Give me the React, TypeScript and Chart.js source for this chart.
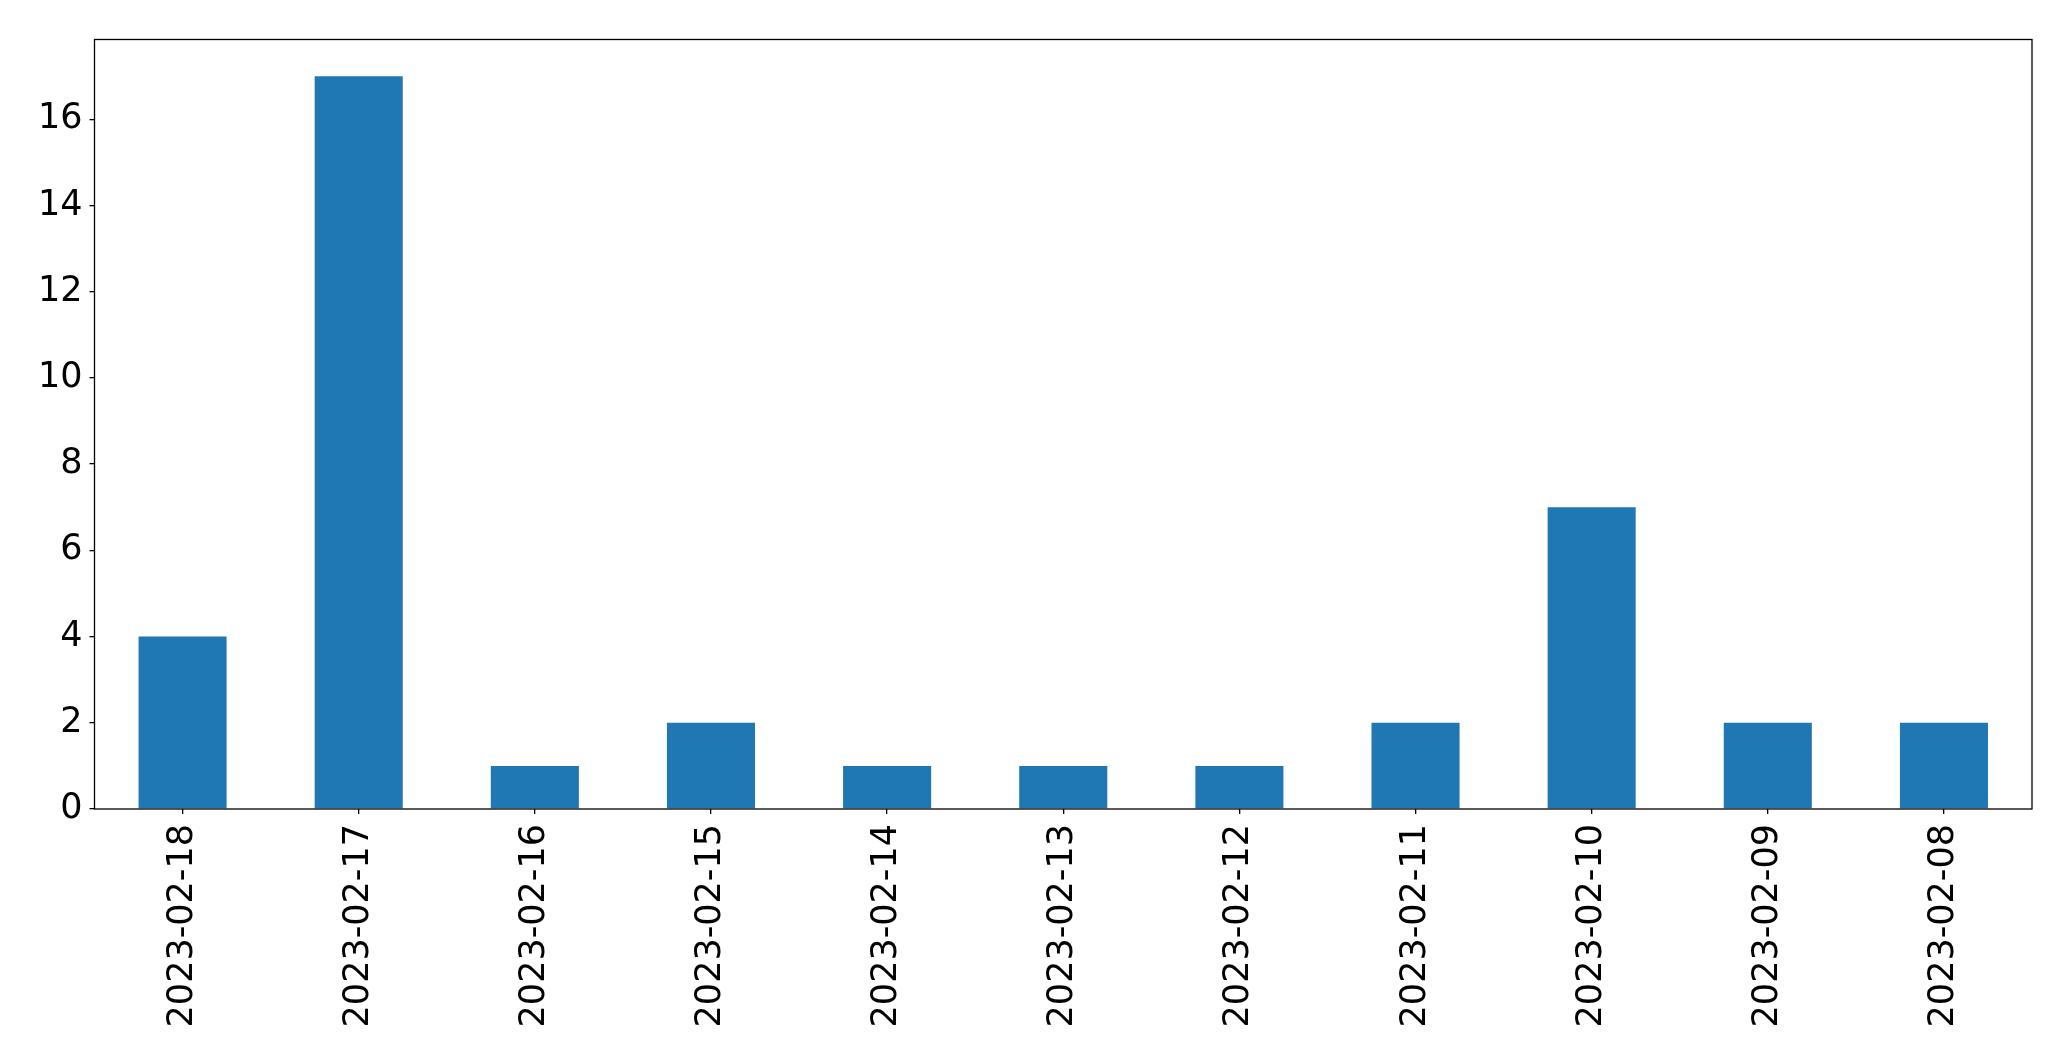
import React, { useEffect, useRef } from "react";
import { Chart, registerables } from "chart.js";

Chart.register(...registerables);

const categories = [
  "2023-02-18",
  "2023-02-17",
  "2023-02-16",
  "2023-02-15",
  "2023-02-14",
  "2023-02-13",
  "2023-02-12",
  "2023-02-11",
  "2023-02-10",
  "2023-02-09",
  "2023-02-08",
];
const counts = [4, 17, 1, 2, 1, 1, 1, 2, 7, 2, 2];
const yTicks = [0, 2, 4, 6, 8, 10, 12, 14, 16];
const yMax = 17.85;

const W = 2071;
const H = 1061;

const framePlugin = {
  id: "frame",
  afterDraw(chart: any) {
    const { ctx, chartArea } = chart;
    ctx.save();
    ctx.strokeStyle = "#000";
    ctx.lineWidth = 1.3;
    ctx.strokeRect(chartArea.left, chartArea.top, chartArea.right - chartArea.left, chartArea.bottom - chartArea.top);
    ctx.restore();
  },
};

export default function App() {
  const ref = useRef<HTMLCanvasElement | null>(null);
  useEffect(() => {
    document.body.style.margin = "0";
    const canvas = ref.current!;
    const chart = new Chart(canvas, {
      type: "bar",
      data: {
        labels: categories,
        datasets: [
          {
            data: counts,
            backgroundColor: "#1f77b4",
            barPercentage: 0.5,
            categoryPercentage: 1,
          },
        ],
      },
      options: {
        animation: false,
        responsive: false,
        devicePixelRatio: 1,
        layout: { padding: { top: 39.5, right: 39, left: 0, bottom: 0 } },
        plugins: { legend: { display: false }, tooltip: { enabled: false } },
        scales: {
          x: {
            offset: true,
            border: { display: false },
            grid: {
              display: true,
              drawOnChartArea: false,
              drawTicks: true,
              tickLength: 5,
              color: "#000",
              lineWidth: 1.3,
              offset: false,
            },
            ticks: {
              color: "#000",
              font: { family: "DejaVu Sans", size: 35 },
              minRotation: 90,
              maxRotation: 90,
              padding: 10,
              autoSkip: false,
            },
            afterFit(scale: any) {
              scale.height = H - 809;
            },
          },
          y: {
            min: 0,
            max: yMax,
            border: { display: false },
            grid: {
              display: true,
              drawOnChartArea: false,
              drawTicks: true,
              tickLength: 5,
              color: "#000",
              lineWidth: 1.3,
            },
            ticks: {
              color: "#000",
              font: { family: "DejaVu Sans", size: 35 },
              padding: 7,
              includeBounds: false,
              stepSize: 2,
            },
            afterBuildTicks(scale: any) {
              scale.ticks = yTicks.map((v) => ({ value: v }));
            },
            afterFit(scale: any) {
              scale.width = 94.5;
            },
          },
        },
      },
      plugins: [framePlugin],
    });
    return () => chart.destroy();
  }, []);
  return <canvas ref={ref} width={W} height={H} style={{ display: "block", width: W, height: H }} />;
}
